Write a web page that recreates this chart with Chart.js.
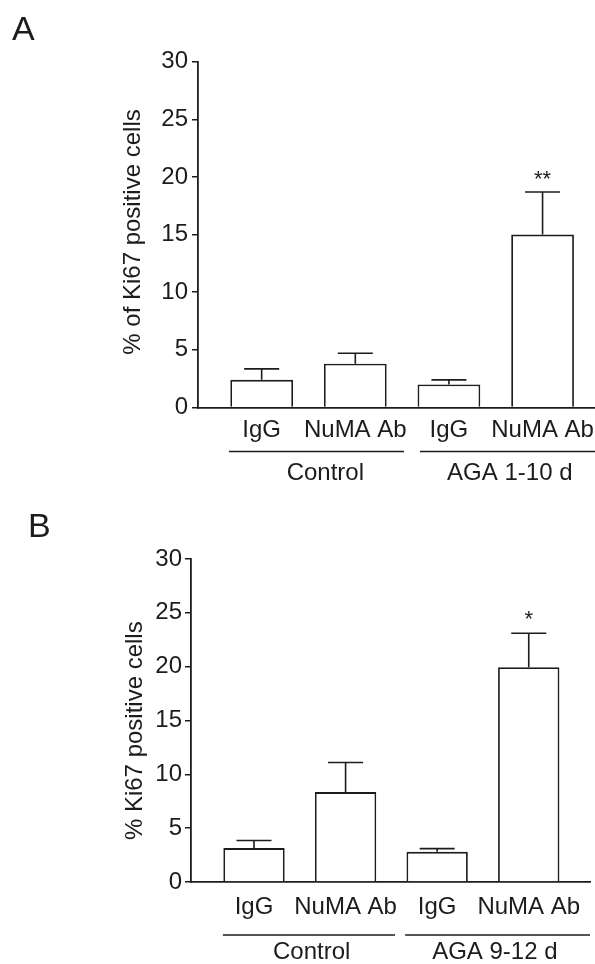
<!DOCTYPE html>
<html lang="en">
<head>
<meta charset="UTF-8">
<title>Ki67 positive cells</title>
<script src="https://cdn.jsdelivr.net/npm/chart.js"></script>
<style>
  body { margin: 0; background: #fff; }
  #wrap { position: relative; width: 595px; height: 964px; }
  .panel { position: absolute; left: 0; width: 595px; }
  #panelA { top: 0; height: 490px; }
  #panelB { top: 490px; height: 474px; }
</style>
</head>
<body>
<div id="wrap">
  <div class="panel" id="panelA"><canvas id="chartA"></canvas></div>
  <div class="panel" id="panelB"><canvas id="chartB"></canvas></div>
</div>
<script>
// data
const treatments = ['IgG', 'NuMA Ab', 'IgG', 'NuMA Ab'];
const yTicks = [0, 5, 10, 15, 20, 25, 30];

const groupsA = ['Control', 'AGA 1-10 d'];
const meanA = [2.4, 3.8, 2.0, 15.0];
const semA = [0.95, 0.9, 0.4, 3.7];
const starsA = ['', '', '', '**'];

const groupsB = ['Control', 'AGA 9-12 d'];
const meanB = [3.15, 8.35, 2.8, 19.95];
const semB = [0.7, 2.75, 0.3, 3.15];
const starsB = ['', '', '', '*'];

const FONT = '"Liberation Sans", Arial, sans-serif';
const INK = '#1c1c1c';

// error bars, stars, group brackets, axis title, panel letter
const decor = {
  id: 'decor',
  afterDatasetsDraw(chart, args, o) {
    const ctx = chart.ctx;
    const xs = chart.scales.x, ys = chart.scales.y;
    const bars = chart.getDatasetMeta(0).data;
    ctx.save();
    ctx.strokeStyle = INK;
    ctx.fillStyle = INK;
    ctx.lineWidth = 1.6;
    bars.forEach((bar, i) => {
      const top = ys.getPixelForValue(o.mean[i] + o.sem[i]);
      ctx.beginPath();
      ctx.moveTo(bar.x, bar.y);
      ctx.lineTo(bar.x, top);
      ctx.moveTo(bar.x - 17.5, top);
      ctx.lineTo(bar.x + 17.5, top);
      ctx.stroke();
      if (o.stars[i]) {
        ctx.font = '22px ' + FONT;
        ctx.textAlign = 'center';
        ctx.textBaseline = 'alphabetic';
        ctx.fillText(o.stars[i], bar.x, top + o.starDy);
      }
    });

    // group lines + names
    ctx.lineWidth = 1.3;
    ctx.font = '24px ' + FONT;
    ctx.textAlign = 'center';
    ctx.textBaseline = 'alphabetic';
    o.groups.forEach((g, i) => {
      const a = xs.getPixelForValue(o.spans[i][0]);
      const b = o.spans[i][1] === null ? chart.chartArea.right : xs.getPixelForValue(o.spans[i][1]);
      ctx.beginPath();
      ctx.moveTo(a, o.lineY);
      ctx.lineTo(b, o.lineY);
      ctx.stroke();
      ctx.fillText(g, xs.getPixelForValue(o.textAt[i]), o.textY);
    });

    // y axis title
    ctx.save();
    ctx.translate(o.titleX, o.titleY);
    ctx.rotate(-Math.PI / 2);
    ctx.font = '24px ' + FONT;
    ctx.textBaseline = 'middle';
    ctx.fillText(o.title, 0, 0);
    ctx.restore();

    // panel letter
    ctx.font = '34px ' + FONT;
    ctx.textAlign = 'left';
    ctx.fillText(o.letter, o.letterX, o.letterY);
    ctx.restore();
  }
};

function makePanel(id, p) {
  const h = document.getElementById(id).parentNode.clientHeight;
  return new Chart(document.getElementById(id), {
    type: 'bar',
    data: {
      datasets: [{
        data: p.mean.map((v, i) => ({ x: i, y: v })),
        backgroundColor: '#ffffff',
        borderColor: INK,
        borderWidth: 1.8,
        barPercentage: 0.67,
        categoryPercentage: 1
      }]
    },
    options: {
      responsive: true,
      maintainAspectRatio: false,
      animation: false,
      layout: { padding: { left: 0, top: p.top, right: p.right, bottom: 0 } },
      plugins: {
        legend: { display: false },
        tooltip: { enabled: false },
        decor: p.decor
      },
      scales: {
        x: {
          type: 'linear',
          min: p.xMin,
          max: p.xMax,
          offset: false,
          afterBuildTicks: s => { s.ticks = treatments.map((_, i) => ({ value: i })); },
          ticks: {
            callback: v => treatments[v],
            color: INK,
            font: { family: FONT, size: 24 },
            padding: p.xPad,
            maxRotation: 0,
            autoSkip: false
          },
          grid: { display: false, drawTicks: false },
          border: { color: INK, width: 1.8 },
          afterFit: s => { s.height = h - p.bottom; s.paddingLeft = 0; s.paddingRight = 0; }
        },
        y: {
          min: 0,
          max: 30,
          afterBuildTicks: s => { s.ticks = yTicks.map(v => ({ value: v })); },
          ticks: { color: INK, font: { family: FONT, size: 24 }, padding: p.yPad },
          grid: { drawOnChartArea: false, drawTicks: true, tickLength: 6, color: INK, lineWidth: 1.5 },
          border: { color: INK, width: 1.8 },
          afterFit: s => { s.width = p.left; }
        }
      }
    },
    plugins: [decor]
  });
}

makePanel('chartA', {
  mean: meanA, top: 61.7, bottom: 407.5, left: 198, right: 0,
  xMin: -0.68, xMax: 3.56, xPad: 8, yPad: 4,
  decor: {
    mean: meanA, sem: semA, stars: starsA, starDy: -6,
    groups: groupsA, spans: [[-0.35, 1.52], [1.69, null]], textAt: [0.68, 2.65],
    lineY: 451.5, textY: 480,
    title: '% of Ki67 positive cells', titleX: 133, titleY: 232,
    letter: 'A', letterX: 12, letterY: 39.5
  }
});

makePanel('chartB', {
  mean: meanB, top: 69, bottom: 392, left: 191, right: 5,
  xMin: -0.688, xMax: 3.669, xPad: 11, yPad: 3,
  decor: {
    mean: meanB, sem: semB, stars: starsB, starDy: -7,
    groups: groupsB, spans: [[-0.34, 1.54], [1.65, null]], textAt: [0.63, 2.63],
    lineY: 445, textY: 468.5,
    title: '% Ki67 positive cells', titleX: 135, titleY: 240.7,
    letter: 'B', letterX: 28, letterY: 46.5
  }
});
</script>
</body>
</html>
